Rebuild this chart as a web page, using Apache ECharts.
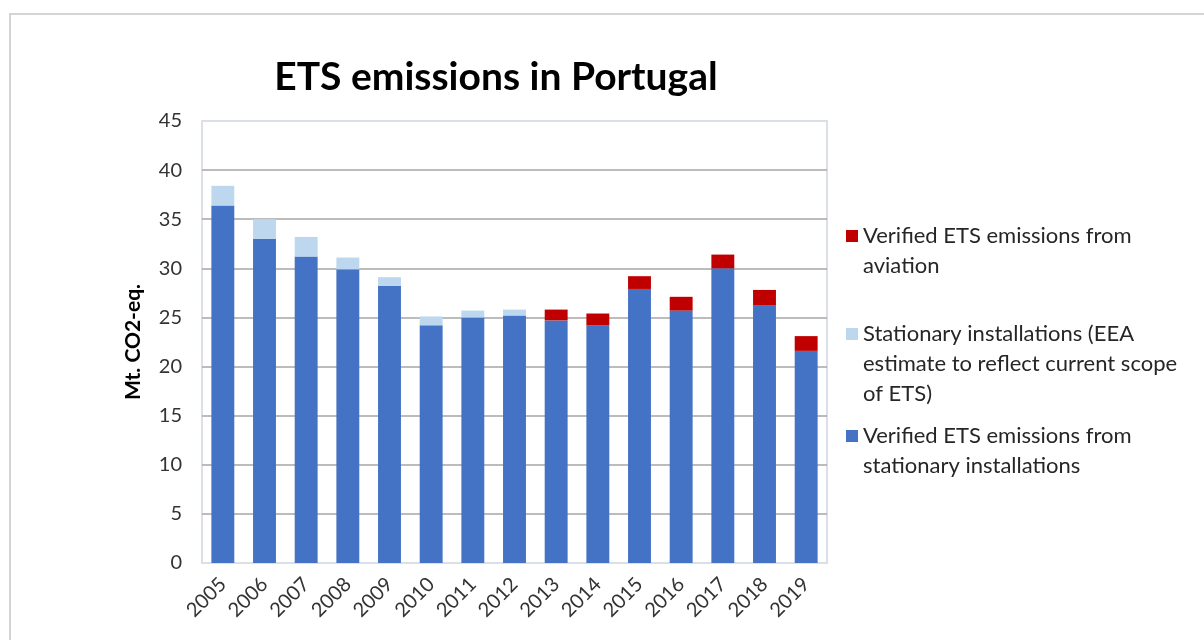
<!DOCTYPE html>
<html>
<head>
<meta charset="utf-8">
<script src="https://cdn.jsdelivr.net/npm/echarts@6/dist/echarts.min.js"></script>
<style>
  html, body { margin: 0; padding: 0; background: #fff; }
  #main { width: 1204px; height: 640px; }
</style>
</head>
<body>
<div id="main"></div>
<script>
var years = ['2005', '2006', '2007', '2008', '2009', '2010', '2011', '2012',
  '2013', '2014', '2015', '2016', '2017', '2018', '2019'];

// Mt CO2-eq
var verifiedStationary = [36.4, 33.0, 31.2, 29.9, 28.2, 24.2, 25.0, 25.2,
  24.7, 24.2, 27.9, 25.7, 30.0, 26.2, 21.6];
var eeaEstimate = [2.0, 2.0, 2.0, 1.2, 0.9, 0.9, 0.7, 0.6,
  null, null, null, null, null, null, null];
var aviation = [null, null, null, null, null, null, null, null,
  1.1, 1.2, 1.3, 1.4, 1.4, 1.6, 1.5];

var yTicks = { min: 0, max: 45, interval: 5 };

var nameAviation = 'Verified ETS emissions from aviation';
var nameEstimate = 'Stationary installations (EEA estimate to reflect current scope of ETS)';
var nameStationary = 'Verified ETS emissions from stationary installations';

var font = 'Lato, "Noto Sans", sans-serif';
var lineH = 30;

// legend text wrapped like the original; empty lines on top keep
// the icon level with the first text line
function legendFor(name, lines, top) {
  var pad = [];
  for (var i = 1; i < lines.length; i++) pad.push(' ');
  var text = pad.concat(lines).join('\n');
  return {
    orient: 'vertical',
    left: 841,
    top: top,
    icon: 'rect',
    itemWidth: 12,
    itemHeight: 12,
    itemGap: 6,
    selectedMode: false,
    data: [name],
    formatter: function () { return text; },
    textStyle: {
      fontFamily: font,
      fontSize: 22,
      color: '#262626',
      lineHeight: lineH
    }
  };
}

var myChart = echarts.init(document.getElementById('main'));

var option = {
  backgroundColor: '#fff',
  animation: false,
  title: {
    text: 'ETS emissions in Portugal',
    left: 491,
    textAlign: 'center',
    top: 53,
    textStyle: {
      fontFamily: font,
      fontSize: 39,
      fontWeight: 'bold',
      color: '#000'
    }
  },
  graphic: [{
    type: 'rect',
    shape: { x: 10, y: 14, width: 1300, height: 700 },
    style: { fill: 'none', stroke: '#d4d4d4', lineWidth: 2 },
    silent: true
  }],
  legend: [
    legendFor(nameAviation, ['Verified ETS emissions from', 'aviation'], 186),
    legendFor(nameEstimate, ['Stationary installations (EEA', 'estimate to reflect current scope', 'of ETS)'], 254),
    legendFor(nameStationary, ['Verified ETS emissions from', 'stationary installations'], 386)
  ],
  grid: {
    left: 202,
    right: 377,
    top: 121,
    bottom: 77,
    show: true,
    borderColor: '#dbe0e8',
    borderWidth: 2
  },
  xAxis: {
    type: 'category',
    data: years,
    axisTick: { show: false },
    axisLine: { lineStyle: { color: '#dbe0e8', width: 2 } },
    axisLabel: {
      rotate: 45,
      margin: 18,
      fontFamily: font,
      fontSize: 20,
      color: '#333'
    }
  },
  yAxis: {
    type: 'value',
    min: yTicks.min,
    max: yTicks.max,
    interval: yTicks.interval,
    name: 'Mt. CO2-eq.',
    nameLocation: 'middle',
    nameGap: 58,
    nameTextStyle: {
      fontFamily: font,
      fontSize: 21,
      fontWeight: 'bold',
      color: '#000'
    },
    axisLine: { show: false },
    axisTick: { show: false },
    axisLabel: {
      margin: 20,
      fontFamily: font,
      fontSize: 20,
      color: '#333'
    },
    splitLine: {
      showMinLine: false,
      showMaxLine: false,
      lineStyle: { color: '#a6a6a6', width: 1.5 }
    }
  },
  series: [{
    name: nameStationary,
    type: 'bar',
    stack: 'ets',
    barWidth: '55%',
    itemStyle: { color: '#4472c4' },
    data: verifiedStationary
  }, {
    name: nameEstimate,
    type: 'bar',
    stack: 'ets',
    itemStyle: { color: '#bdd7ee' },
    data: eeaEstimate
  }, {
    name: nameAviation,
    type: 'bar',
    stack: 'ets',
    itemStyle: { color: '#c00000' },
    data: aviation
  }]
};

myChart.setOption(option);
</script>
</body>
</html>
